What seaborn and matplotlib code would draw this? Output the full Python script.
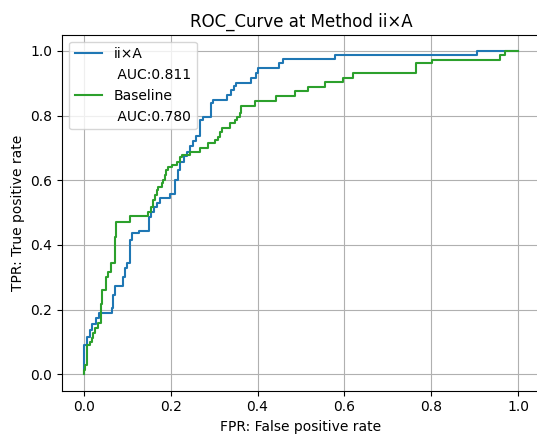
import matplotlib
matplotlib.use("Agg")
import matplotlib.pyplot as plt
from matplotlib.lines import Line2D
import seaborn as sns
import pandas as pd

# ROC operating points (corner points of each step curve)
fpr_method = [0.000, 0.000, 0.008, 0.008, 0.014, 0.014, 0.018, 0.018, 0.028, 0.028,
              0.035, 0.035, 0.064, 0.064, 0.068, 0.068, 0.073, 0.073, 0.091, 0.091,
              0.094, 0.094, 0.100, 0.100, 0.106, 0.106, 0.111, 0.111, 0.127, 0.127,
              0.150, 0.150, 0.155, 0.155, 0.161, 0.161, 0.168, 0.168, 0.175, 0.175,
              0.199, 0.199, 0.210, 0.210, 0.216, 0.216, 0.221, 0.221, 0.230, 0.230,
              0.237, 0.237, 0.244, 0.244, 0.251, 0.251, 0.258, 0.258, 0.267, 0.267,
              0.275, 0.275, 0.294, 0.294, 0.298, 0.298, 0.329, 0.329, 0.340, 0.340,
              0.346, 0.346, 0.350, 0.350, 0.386, 0.386, 0.396, 0.396, 0.402, 0.402,
              0.450, 0.450, 0.458, 0.458, 0.578, 0.578, 0.905, 0.905, 1.000]
tpr_method = [0.000, 0.091, 0.091, 0.116, 0.116, 0.137, 0.137, 0.156, 0.156, 0.174,
              0.174, 0.189, 0.189, 0.204, 0.204, 0.245, 0.245, 0.273, 0.273, 0.302,
              0.302, 0.328, 0.328, 0.345, 0.345, 0.415, 0.415, 0.436, 0.436, 0.444,
              0.444, 0.485, 0.485, 0.501, 0.501, 0.517, 0.517, 0.530, 0.530, 0.544,
              0.544, 0.559, 0.559, 0.601, 0.601, 0.632, 0.632, 0.657, 0.657, 0.675,
              0.675, 0.687, 0.687, 0.706, 0.706, 0.721, 0.721, 0.737, 0.737, 0.786,
              0.786, 0.796, 0.796, 0.838, 0.838, 0.848, 0.848, 0.863, 0.863, 0.879,
              0.879, 0.891, 0.891, 0.901, 0.901, 0.917, 0.917, 0.930, 0.930, 0.946,
              0.946, 0.961, 0.961, 0.974, 0.974, 0.987, 0.987, 1.000, 1.000]

fpr_baseline = [0.000, 0.000, 0.003, 0.003, 0.008, 0.008, 0.014, 0.014, 0.018, 0.018,
                0.022, 0.022, 0.027, 0.027, 0.033, 0.033, 0.039, 0.039, 0.042, 0.042,
                0.052, 0.052, 0.057, 0.057, 0.062, 0.062, 0.071, 0.071, 0.075, 0.075,
                0.106, 0.106, 0.148, 0.148, 0.154, 0.154, 0.160, 0.160, 0.164, 0.164,
                0.168, 0.168, 0.171, 0.171, 0.179, 0.179, 0.183, 0.183, 0.187, 0.187,
                0.190, 0.190, 0.194, 0.194, 0.204, 0.204, 0.214, 0.214, 0.221, 0.221,
                0.225, 0.225, 0.244, 0.244, 0.267, 0.267, 0.286, 0.286, 0.302, 0.302,
                0.309, 0.309, 0.313, 0.313, 0.318, 0.318, 0.336, 0.336, 0.348, 0.348,
                0.353, 0.353, 0.359, 0.359, 0.363, 0.363, 0.394, 0.394, 0.442, 0.442,
                0.486, 0.486, 0.516, 0.516, 0.555, 0.555, 0.596, 0.596, 0.619, 0.619,
                0.765, 0.765, 0.801, 0.801, 0.959, 0.959, 0.970, 0.970, 1.000]
tpr_baseline = [0.000, 0.014, 0.014, 0.029, 0.029, 0.091, 0.091, 0.101, 0.101, 0.112,
                0.112, 0.127, 0.127, 0.142, 0.142, 0.158, 0.158, 0.219, 0.219, 0.262,
                0.262, 0.302, 0.302, 0.317, 0.317, 0.343, 0.343, 0.425, 0.425, 0.472,
                0.472, 0.489, 0.489, 0.503, 0.503, 0.518, 0.518, 0.539, 0.539, 0.554,
                0.554, 0.570, 0.570, 0.580, 0.580, 0.591, 0.591, 0.601, 0.601, 0.616,
                0.616, 0.632, 0.632, 0.642, 0.642, 0.647, 0.647, 0.657, 0.657, 0.673,
                0.673, 0.678, 0.678, 0.688, 0.688, 0.699, 0.699, 0.714, 0.714, 0.725,
                0.725, 0.735, 0.735, 0.750, 0.750, 0.761, 0.761, 0.776, 0.776, 0.786,
                0.786, 0.796, 0.796, 0.807, 0.807, 0.830, 0.830, 0.844, 0.844, 0.859,
                0.859, 0.875, 0.875, 0.889, 0.889, 0.902, 0.902, 0.916, 0.916, 0.932,
                0.932, 0.961, 0.961, 0.971, 0.971, 0.987, 0.987, 1.000, 1.000]

model_names = ["ii×A", "Baseline"]
auc_scores = [0.811, 0.780]
line_colors = ["#1f77b4", "#2ca02c"]

curves = [(fpr_method, tpr_method), (fpr_baseline, tpr_baseline)]

fig = plt.figure(figsize=(5.37, 4.34), dpi=100)
ax = fig.add_axes([62 / 537, 43.4 / 434, 478 / 537, 356 / 434])

handles, labels = [], []
for (fpr, tpr), name, auc, color in zip(curves, model_names, auc_scores, line_colors):
    df = pd.DataFrame({"fpr": fpr, "tpr": tpr})
    sns.lineplot(data=df, x="fpr", y="tpr", sort=False, estimator=None,
                 color=color, linewidth=1.5, ax=ax)
    # one legend row for the curve, one text-only row for its AUC
    handles.append(Line2D([], [], color=color, linewidth=1.5))
    labels.append(name)
    handles.append(Line2D([], [], linestyle="none"))
    labels.append(f" AUC:{auc:.3f}")

ax.set_xlim(-0.05, 1.05)
ax.set_ylim(-0.05, 1.05)
ax.set_xticks([0.0, 0.2, 0.4, 0.6, 0.8, 1.0])
ax.set_yticks([0.0, 0.2, 0.4, 0.6, 0.8, 1.0])
ax.grid(True, color="#b0b0b0", linewidth=0.8)
ax.set_title("ROC_Curve at Method ii×A")
ax.set_xlabel("FPR: False positive rate")
ax.set_ylabel("TPR: True positive rate")
ax.legend(handles, labels, loc="upper left")

fig.savefig("out.png", dpi=100)
